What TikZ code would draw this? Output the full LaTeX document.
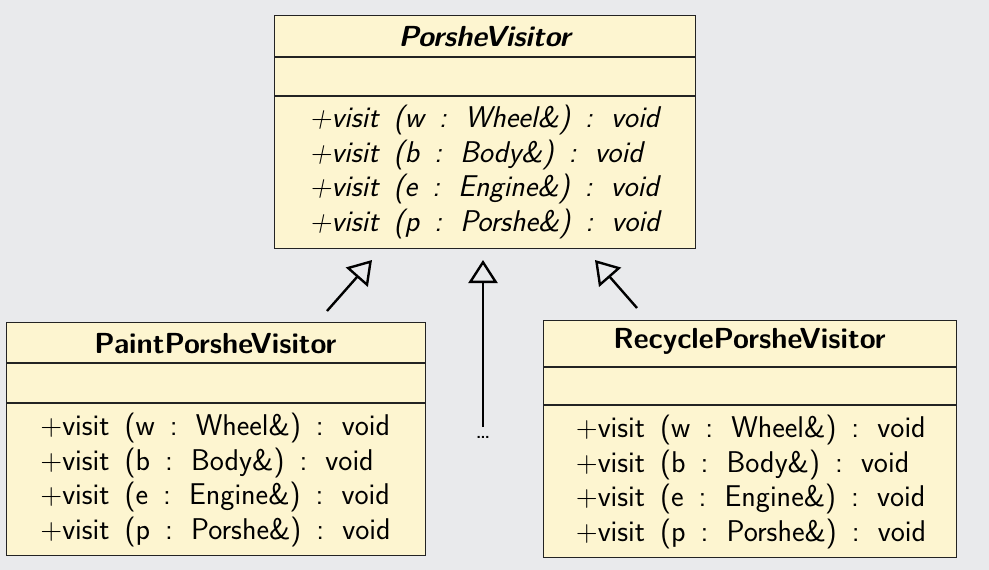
\documentclass[tikz,border=0pt]{standalone}
\usepackage{fontspec}
\usetikzlibrary{arrows.meta}
\definecolor{bg}{RGB}{233,234,236}
\definecolor{classfill}{RGB}{253,245,208}
\definecolor{ink}{RGB}{35,35,35}
\newcommand{\methfont}{\fontsize{30}{34.5}\selectfont\sffamily\spaceskip=0.5em plus 0.1em\relax}
\tikzset{
  classbox/.style={draw=ink, fill=classfill, line width=1.3pt, rectangle, inner sep=0pt, anchor=north west},
  divider/.style={draw=ink, line width=1.1pt},
  titletext/.style={font=\fontsize{29}{32}\selectfont\sffamily\bfseries, inner sep=0pt},
  abstitle/.style={font=\fontsize{29}{32}\selectfont\sffamily\bfseries\slshape, inner sep=0pt},
  methtext/.style={font=\methfont, align=left, inner sep=0pt},
  absmeth/.style={font=\methfont\slshape, align=left, inner sep=0pt},
  inherit/.style={draw=black, line width=2.4pt, -{Triangle[open, length=23pt, width=29pt, line width=2.4pt]}},
  dotstext/.style={font=\fontsize{26}{28}\selectfont\sffamily, inner sep=0pt},
}
\begin{document}
\begin{tikzpicture}[x=1pt,y=-1pt]
\fill[bg] (0,0) rectangle (989,570);
\useasboundingbox (0,0) rectangle (989,570);

% PorsheVisitor
\node[classbox, minimum width=421pt, minimum height=233pt] (pv) at (274,15) {};
\draw[divider] ([yshift=-42pt]pv.north west) -- ([yshift=-42pt]pv.north east);
\draw[divider] ([yshift=-81pt]pv.north west) -- ([yshift=-81pt]pv.north east);
\node[abstitle] (pvtitle) at (484.5,37) {PorsheVisitor};
\node[absmeth] (pvmeth) at (484.5,172) {+visit (w : Wheel\&) : void\\+visit (b : Body\&) : void\\+visit (e : Engine\&) : void\\+visit (p : Porshe\&) : void};

% PaintPorsheVisitor
\node[classbox, minimum width=419pt, minimum height=233pt] (ppv) at (6,322) {};
\draw[divider] ([yshift=-41pt]ppv.north west) -- ([yshift=-41pt]ppv.north east);
\draw[divider] ([yshift=-81pt]ppv.north west) -- ([yshift=-81pt]ppv.north east);
\node[titletext] (ppvtitle) at (215.5,344) {PaintPorsheVisitor};
\node[methtext] (ppvmeth) at (215.5,480) {+visit (w : Wheel\&) : void\\+visit (b : Body\&) : void\\+visit (e : Engine\&) : void\\+visit (p : Porshe\&) : void};

% RecyclePorsheVisitor
\node[classbox, minimum width=413pt, minimum height=237pt] (rpv) at (543,320) {};
\draw[divider] ([yshift=-47pt]rpv.north west) -- ([yshift=-47pt]rpv.north east);
\draw[divider] ([yshift=-85pt]rpv.north west) -- ([yshift=-85pt]rpv.north east);
\node[titletext] (rpvtitle) at (749.5,341) {RecyclePorsheVisitor};
\node[methtext] (rpvmeth) at (751,482) {+visit (w : Wheel\&) : void\\+visit (b : Body\&) : void\\+visit (e : Engine\&) : void\\+visit (p : Porshe\&) : void};

% connectors
\coordinate (lstart) at (327,311);
\coordinate (ltip) at (372,260);
\coordinate (mstart) at (483,427);
\coordinate (mtip) at (483,260);
\coordinate (rstart) at (637,308);
\coordinate (rtip) at (595,260);
\draw[inherit] (lstart) -- (ltip);
\draw[inherit] (mstart) -- (mtip);
\draw[inherit] (rstart) -- (rtip);
\node[dotstext] (dots) at (483,437) {\ldots};
\end{tikzpicture}
\end{document}
